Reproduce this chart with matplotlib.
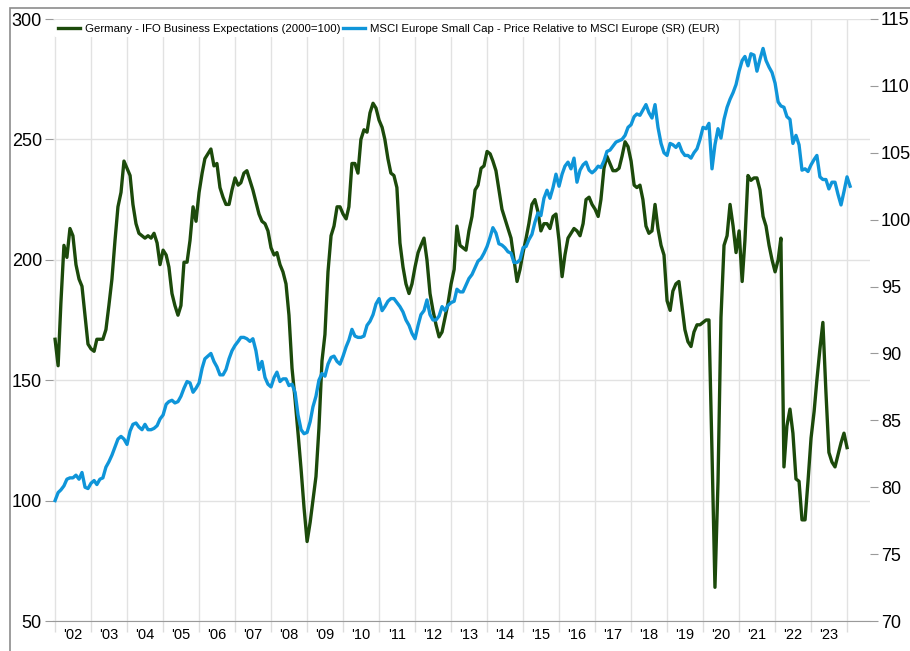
import numpy as np
import pandas as pd
import matplotlib
matplotlib.use("Agg")
import matplotlib.pyplot as plt
import matplotlib.dates as mdates
from matplotlib.patches import Rectangle
from matplotlib.ticker import NullFormatter

plt.rcParams['font.family'] = ['Liberation Sans', 'DejaVu Sans']

# monthly readings, first point = end of Dec 2001
ifo = [
    167, 156, 182, 206, 201, 213, 210, 198, 192, 189, 177, 165,
    163, 162, 167, 167, 167, 171, 181, 192, 208, 222, 228, 241,
    238, 235, 223, 215, 211, 210, 209, 210, 209, 211, 207, 198,
    204, 202, 197, 186, 181, 177, 181, 199, 199, 208, 222, 216,
    228, 236, 242, 244, 246, 239, 240, 230, 226, 223, 223, 229,
    234, 231, 232, 236, 237, 233, 229, 224, 219, 216, 215, 212,
    205, 202, 203, 198, 195, 190, 177, 155, 142, 128, 113, 97,
    83, 91, 100, 110, 130, 158, 169, 195, 210, 214, 222, 222,
    219, 217, 222, 240, 240, 236, 250, 254, 253, 261, 265, 263,
    258, 255, 250, 242, 236, 235, 230, 207, 197, 190, 186, 190,
    197, 203, 206, 209, 200, 186, 179, 173, 168, 170, 176, 182,
    190, 196, 214, 206, 205, 204, 212, 218, 229, 231, 238, 239,
    245, 244, 241, 237, 229, 221, 217, 213, 209, 200, 191, 196,
    203, 209, 215, 223, 225, 220, 212, 215, 215, 213, 218, 219,
    208, 193, 202, 209, 211, 213, 212, 210, 215, 225, 226, 223,
    221, 218, 225, 238, 243, 240, 237, 237, 238, 243, 249, 247,
    241, 231, 230, 231, 225, 214, 211, 212, 223, 213, 206, 202,
    183, 179, 187, 190, 191, 181, 171, 166, 164, 170, 173, 173,
    174, 175, 175, 120, 64, 108, 176, 206, 210, 223, 214, 203,
    212, 191, 208, 235, 233, 234, 234, 229, 218, 214, 206, 200,
    195, 200, 209, 114, 131, 138, 128, 109, 108, 92, 92, 108,
    126, 137, 150, 163, 174, 145, 120, 116, 114, 119, 124, 128,
    122,
]

msci = [
    79.0, 79.6, 79.8, 80.1, 80.6, 80.7, 80.7, 80.9, 80.6, 81.1, 80.0, 79.9,
    80.3, 80.5, 80.2, 80.6, 80.7, 81.5, 81.9, 82.4, 83.0, 83.6, 83.8, 83.6,
    83.2, 84.2, 84.7, 84.8, 84.5, 84.3, 84.7, 84.3, 84.3, 84.4, 84.6, 85.1,
    85.4, 86.2, 86.4, 86.5, 86.3, 86.4, 86.8, 87.4, 87.9, 87.8, 87.1, 87.4,
    87.8, 88.9, 89.6, 89.8, 90.0, 89.4, 89.0, 88.4, 88.4, 88.8, 89.6, 90.2,
    90.6, 90.9, 91.2, 91.2, 91.1, 90.9, 91.1, 90.2, 88.8, 89.4, 88.2, 87.7,
    87.5, 88.2, 88.6, 87.9, 88.1, 88.1, 87.6, 87.7, 87.1, 85.4, 84.3, 84.0,
    84.1, 84.9, 86.0, 86.8, 88.0, 88.5, 88.3, 89.2, 89.7, 89.8, 89.4, 89.2,
    89.8, 90.5, 91.0, 91.8, 91.3, 91.2, 91.2, 91.3, 92.1, 92.4, 92.9, 93.7,
    94.1, 93.2, 93.5, 93.9, 94.1, 94.1, 93.8, 93.5, 93.1, 92.5, 92.1, 91.5,
    91.1, 92.1, 92.9, 93.2, 94.0, 92.9, 92.5, 92.5, 92.8, 93.5, 93.2, 93.6,
    93.8, 93.9, 94.8, 94.6, 94.6, 95.1, 95.6, 95.9, 96.4, 96.9, 97.1, 97.5,
    98.0, 98.7, 99.4, 99.0, 98.2, 98.1, 97.9, 97.6, 97.5, 96.8, 96.8, 97.0,
    97.9, 98.0, 98.5, 98.9, 99.8, 100.5, 100.3, 101.6, 102.2, 101.6, 102.4, 103.4,
    102.5, 103.4, 104.0, 104.3, 103.8, 104.6, 102.8, 103.7, 104.1, 104.3, 103.7, 103.5,
    103.7, 104.0, 103.9, 104.4, 105.1, 105.2, 105.5, 105.8, 105.9, 106.0, 106.3, 106.9,
    107.1, 107.7, 107.9, 107.8, 108.2, 108.6, 108.0, 107.6, 108.6, 106.9, 105.7, 105.0,
    104.8, 105.7, 105.6, 105.4, 105.7, 105.1, 104.8, 104.8, 104.6, 105.0, 105.3, 106.0,
    106.9, 106.8, 107.2, 103.8, 105.6, 106.8, 106.1, 107.5, 108.4, 109.0, 109.5, 110.1,
    111.1, 111.9, 112.2, 111.5, 112.4, 112.3, 111.1, 112.0, 112.8, 111.9, 111.4, 111.0,
    110.2, 108.8, 108.5, 108.4, 107.7, 107.5, 105.7, 106.3, 105.6, 103.7, 103.8, 103.6,
    104.1, 104.5, 104.8, 103.2, 103.0, 103.0, 102.3, 102.8, 102.8, 101.9, 101.1, 102.1,
    103.2, 102.5,
]

years = list(range(2002, 2024))
year_labels = ["'" + str(y)[2:] for y in years]

ifo_dates = pd.date_range('2001-12-31', periods=len(ifo), freq='ME')
msci_dates = pd.date_range('2001-12-31', periods=len(msci), freq='ME')

green = '#1c4a0b'
blue = '#0f95d9'

fig = plt.figure(figsize=(9.1, 6.51), dpi=100)
fig.patches.append(Rectangle((10 / 910, -0.1), 1.0, 1.1 - 8 / 651,
                             transform=fig.transFigure, fill=False,
                             edgecolor='#8c8c8c', lw=1.2))

ax = fig.add_axes([53 / 910, 30 / 651, 817 / 910, 602 / 651])
l1, = ax.plot(ifo_dates, ifo, color=green, lw=2.4,
              label='Germany - IFO Business Expectations (2000=100)')
ax2 = ax.twinx()
l2, = ax2.plot(msci_dates, msci, color=blue, lw=2.4,
               label='MSCI Europe Small Cap - Price Relative to MSCI Europe (SR) (EUR)')

ax.set_ylim(50, 300)
ax.set_yticks(range(50, 301, 50))
ax2.set_ylim(70, 115)
ax2.set_yticks(range(70, 116, 5))
ax.set_xlim(pd.Timestamp('2001-12-10'), pd.Timestamp('2024-08-20'))

ax.xaxis.set_major_locator(mdates.YearLocator())
ax.xaxis.set_major_formatter(NullFormatter())
ax.set_xticks([pd.Timestamp(f'{y}-07-01') for y in years], minor=True)
ax.set_xticklabels(year_labels, minor=True)
ax.tick_params(axis='x', which='major', length=8, color='#dcdcdc', width=1)
ax.tick_params(axis='x', which='minor', length=0, labelsize=10.5, pad=5)

ax.grid(axis='x', which='major', color='#e2e2e2', lw=1)
ax.grid(axis='y', color='#e2e2e2', lw=1)
ax.set_axisbelow(True)

ax.tick_params(axis='y', length=6, color='#9a9a9a', labelsize=13, pad=2)
ax2.tick_params(axis='y', length=6, color='#9a9a9a', labelsize=13, pad=2)

for s in ['top', 'left', 'right']:
    ax.spines[s].set_visible(False)
ax.spines['bottom'].set_color('#9a9a9a')
for s in ax2.spines.values():
    s.set_visible(False)

ax2.legend(handles=[l1, l2], loc='upper left', bbox_to_anchor=(0.0, 1.0),
           ncol=2, fontsize=8.2, frameon=True, facecolor='white',
           edgecolor='none', framealpha=1, borderaxespad=0.1, borderpad=0.3,
           handlelength=2.0, handletextpad=0.4, columnspacing=0.2)

fig.savefig('out.png', dpi=100)
